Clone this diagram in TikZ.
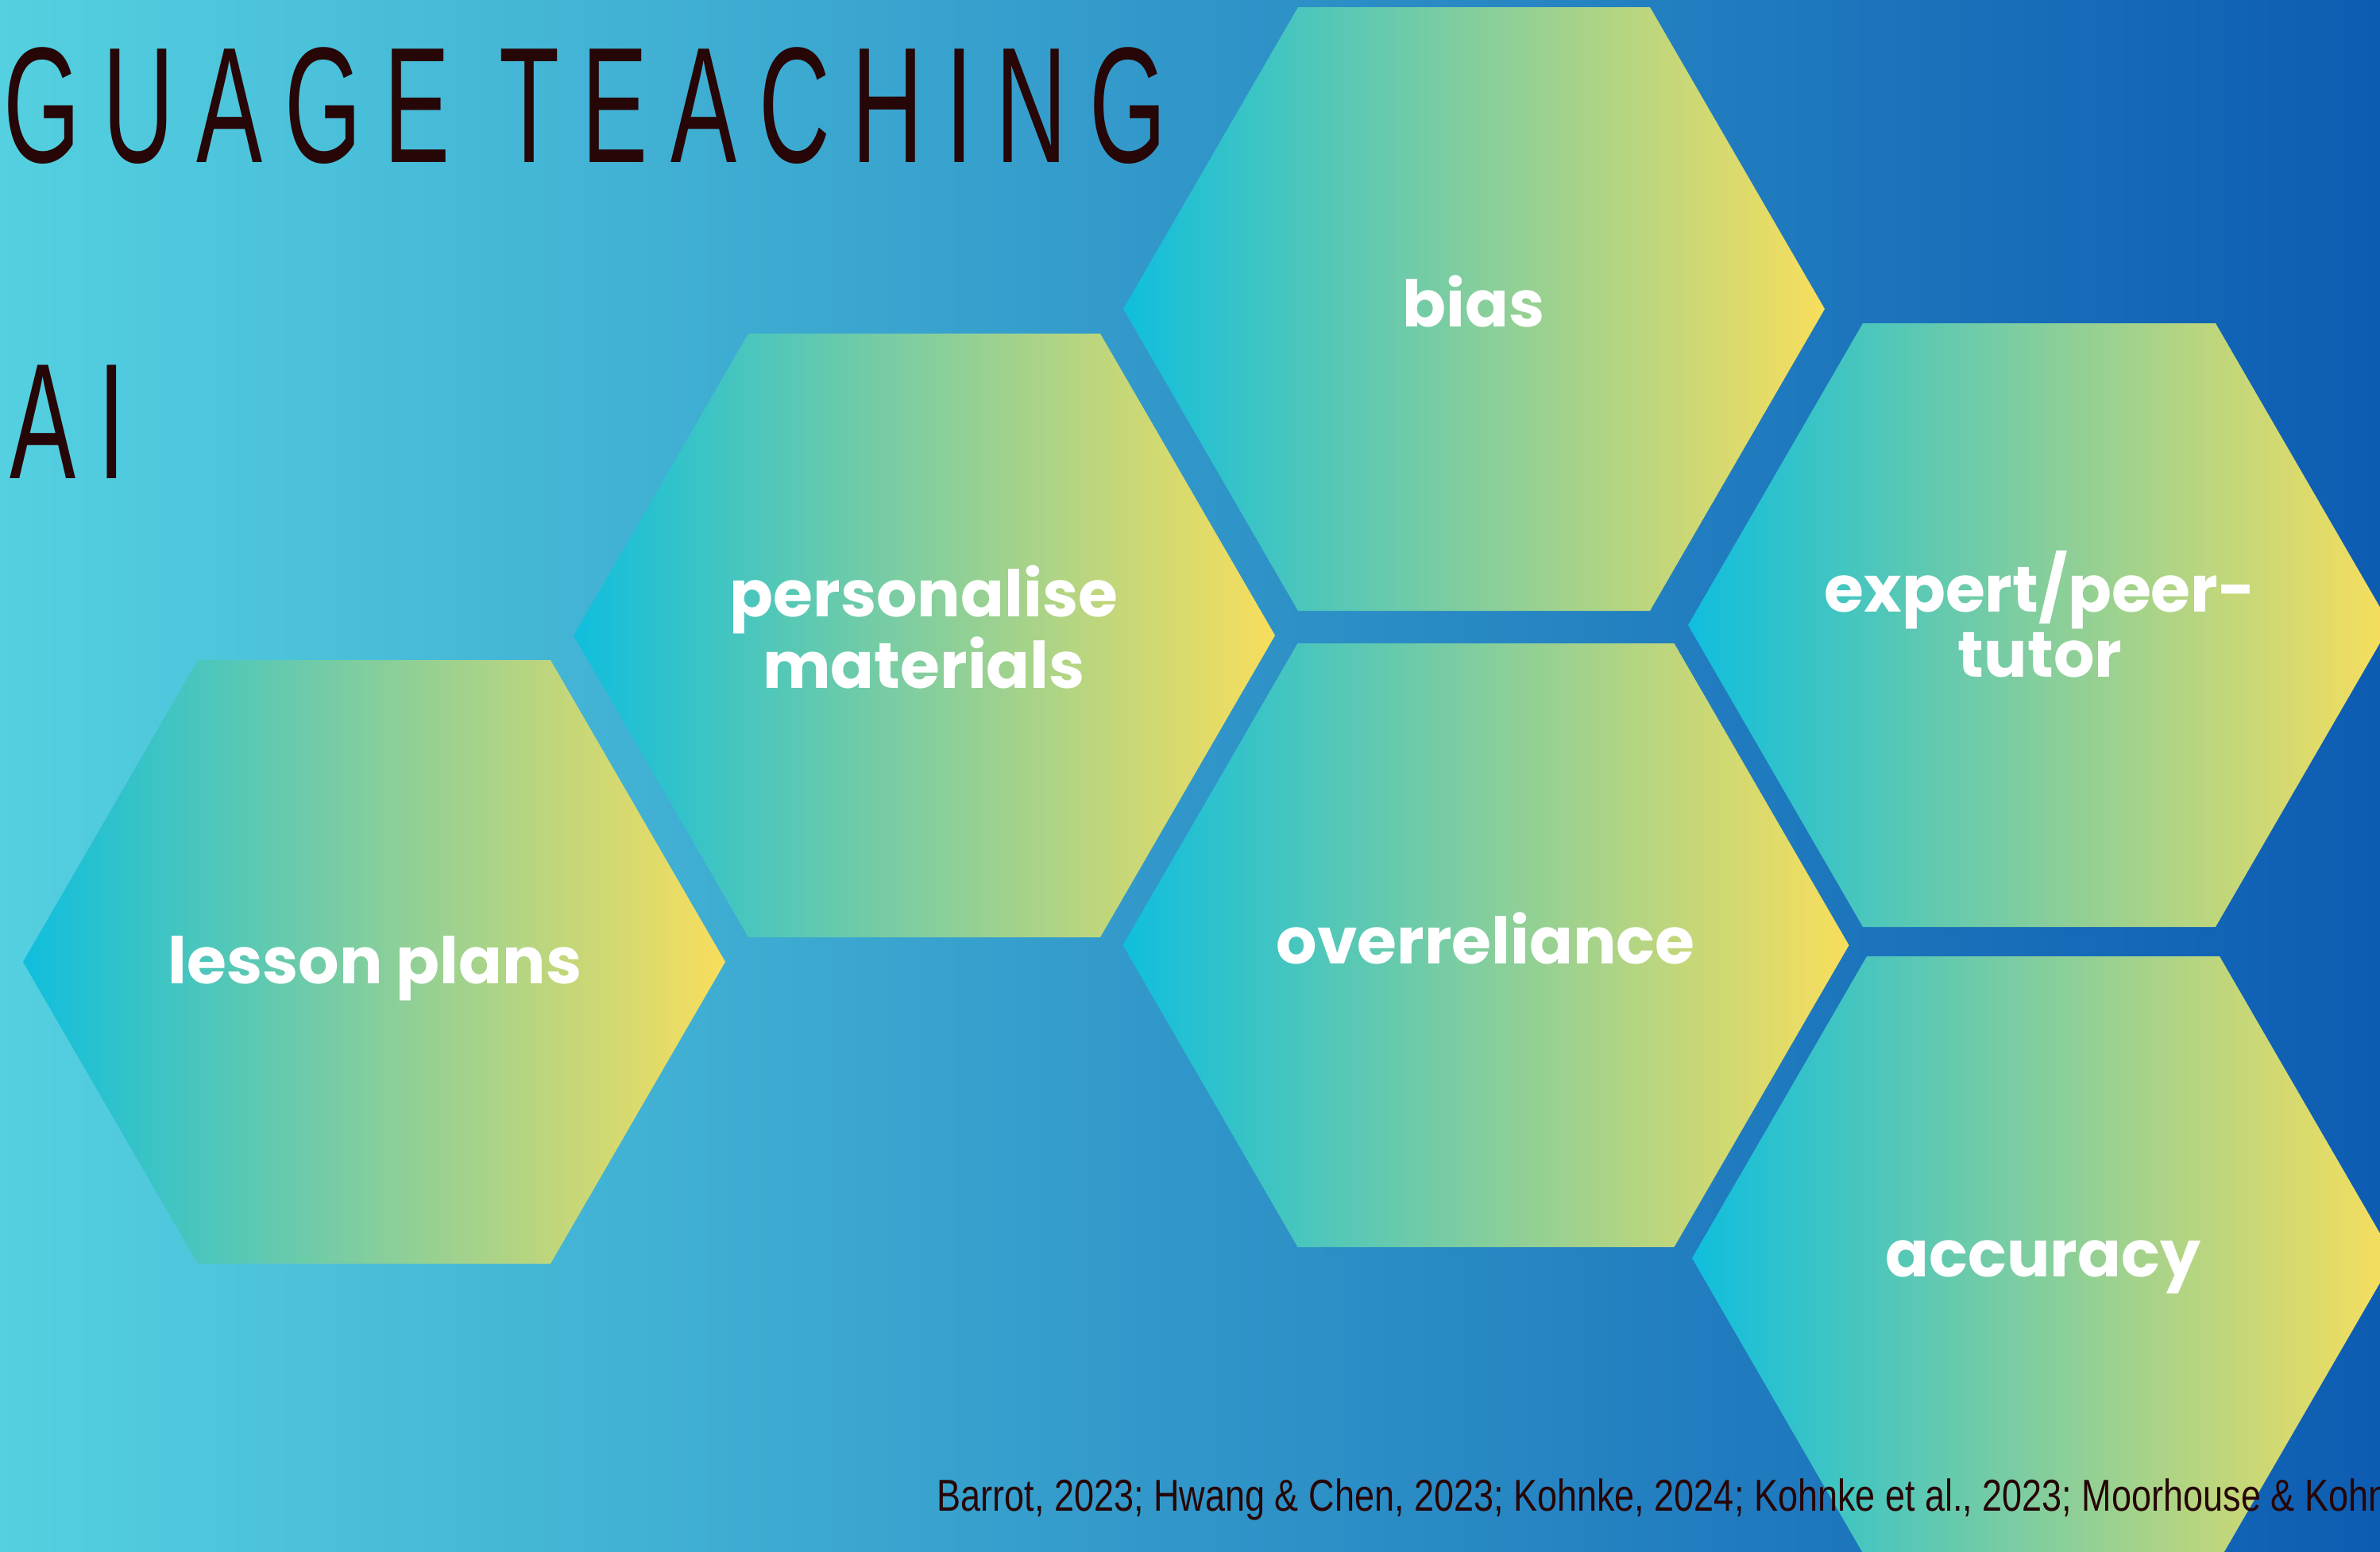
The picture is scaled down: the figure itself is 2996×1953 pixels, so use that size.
\documentclass[tikz,border=0pt]{standalone}
\usepackage{fontspec}
\usepackage{graphicx}
\setmainfont{Liberation Sans}
\newfontfamily\hexfont{Poppins}
\newfontfamily\titlefont{Liberation Sans}[LetterSpace=22.5]
\newfontfamily\citefont{Liberation Sans}

\definecolor{bgleft}{RGB}{84,208,224}
\definecolor{bgright}{RGB}{13,92,178}
\definecolor{hexcyan}{RGB}{16,190,221}
\definecolor{hexyellow}{RGB}{248,222,92}
\definecolor{inkbrown}{RGB}{38,6,6}

% hexagon cell: centre x, centre y, half length of top edge
\newcommand{\hexcell}[3]{%
  \shade[hexfill] (#1-#3-220,#2) -- (#1-#3,#2-380) -- (#1+#3,#2-380)
    -- (#1+#3+220,#2) -- (#1+#3,#2+380) -- (#1-#3,#2+380) -- cycle;}

\tikzset{
  hexfill/.style={left color=hexcyan, right color=hexyellow},
  hexlabel/.style={text=white, anchor=base, align=center, inner sep=0pt,
    font=\hexfont\bfseries\fontsize{23}{22}\selectfont},
  headline/.style={text=inkbrown, anchor=base west, inner sep=0pt,
    font=\titlefont\fontsize{59}{62}\selectfont},
  citeline/.style={text=inkbrown, anchor=base west, inner sep=0pt,
    font=\citefont\fontsize{16}{18}\selectfont}
}

\begin{document}
\begin{tikzpicture}[x=0.01cm,y=-0.01cm]
\useasboundingbox (0,0) rectangle (2996,1953);
\clip (0,0) rectangle (2996,1953);

%Background
\shade[left color=bgleft, right color=bgright] (0,0) rectangle (2996,1953);

%Shape: Hexagons
\hexcell{471}{1211}{222}
\hexcell{1163.5}{800}{221.5}
\hexcell{1855.5}{389}{221.5}
\hexcell{1870.5}{1190}{237}
\hexcell{2567}{787}{222}
\hexcell{2572}{1584}{222}

% Text Node
\node[headline] (title) at (4,204) {\scalebox{0.6}[1]{GUAGE TEACHING}};
% Text Node
\node[headline] (ai) at (12,602) {\scalebox{0.6}[1]{AI}};

% Text Node
\node[hexlabel] (lesson) at (472,1238) {lesson plans};
% Text Node
\node[hexlabel] (personal) at (1163,866) {personalise\\materials};
% Text Node
\node[hexlabel] (bias) at (1855,411) {bias};
% Text Node
\node[hexlabel] (overrel) at (1870,1213) {overreliance};
% Text Node
\node[hexlabel] (tutor) at (2568,852) {expert/peer-\\tutor};
% Text Node
\node[hexlabel] (accuracy) at (2572,1607) {accuracy};

% Text Node
\node[citeline] (refs) at (1179,1902) {\scalebox{0.8}[1]{Barrot, 2023; Hwang \& Chen, 2023; Kohnke, 2024; Kohnke et al., 2023; Moorhouse \& Kohn}};
\end{tikzpicture}
\end{document}
